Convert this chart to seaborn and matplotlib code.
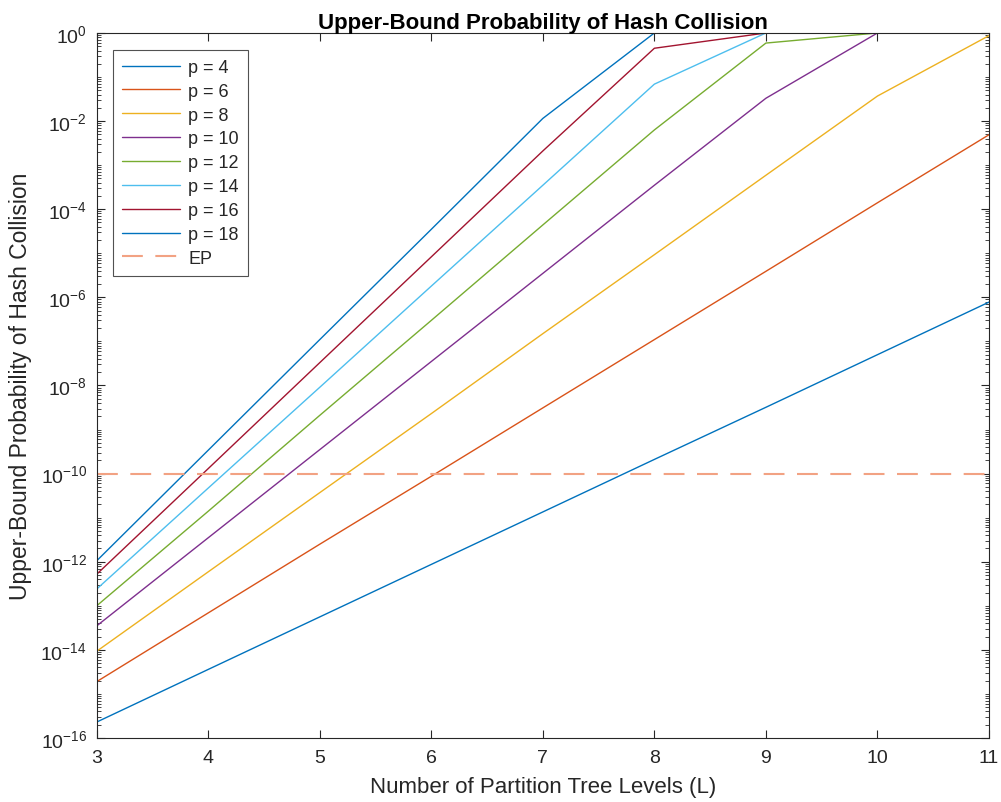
import numpy as np
import pandas as pd
import matplotlib
matplotlib.use("Agg")
import matplotlib.pyplot as plt
import matplotlib.ticker as mticker
import seaborn as sns

# Tree levels on the x axis
levels = [3, 4, 5, 6, 7, 8, 9, 10, 11]

# Upper-bound collision probability for each partition parameter p
prob_p4 = [2.3e-16, 3.6e-15, 5.6e-14, 8.7e-13, 1.35e-11, 2.1e-10, 3.2e-9, 5.0e-8, 7.8e-7]
prob_p6 = [1.9e-15, 6.9e-14, 2.5e-12, 8.7e-11, 3.1e-9, 1.1e-7, 3.9e-6, 1.4e-4, 4.9e-3]
prob_p8 = [9.3e-15, 5.9e-13, 3.7e-11, 2.3e-9, 1.5e-7, 9.3e-6, 5.9e-4, 3.7e-2, 0.87]
prob_p10 = [3.5e-14, 3.5e-12, 3.5e-10, 3.5e-8, 3.5e-6, 3.5e-4, 3.3e-2, 1.0, 1.0]
prob_p12 = [1.0e-13, 1.4e-11, 2.1e-9, 3.0e-7, 4.4e-5, 6.3e-3, 0.59, 1.0, 1.0]
prob_p14 = [2.4e-13, 4.7e-11, 9.1e-9, 1.8e-6, 3.5e-4, 6.9e-2, 1.0, 1.0, 1.0]
prob_p16 = [5.2e-13, 1.3e-10, 3.3e-8, 8.3e-6, 2.1e-3, 0.45, 1.0, 1.0, 1.0]
prob_p18 = [1.05e-12, 3.4e-10, 1.1e-7, 3.5e-5, 1.15e-2, 1.0, 1.0, 1.0, 1.0]

p_labels = ["p = 4", "p = 6", "p = 8", "p = 10", "p = 12", "p = 14", "p = 16", "p = 18"]
series = [prob_p4, prob_p6, prob_p8, prob_p10, prob_p12, prob_p14, prob_p16, prob_p18]

# Error-probability threshold
ep_label = "EP"
ep_value = 1e-10

# Labelled decades on the y axis
y_tick_exponents = [-16, -14, -12, -10, -8, -6, -4, -2, 0]

colors = ["#0072BD", "#D95319", "#EDB120", "#7E2F8E", "#77AC30", "#4DBEEE", "#A2142F", "#0072BD"]

rows = []
for lab, vals in zip(p_labels, series):
    for L, v in zip(levels, vals):
        rows.append({"L": L, "prob": v, "series": lab})
df = pd.DataFrame(rows)

sns.set_theme(style="ticks")
plt.rcParams["font.family"] = ["Liberation Sans", "DejaVu Sans"]
plt.rcParams["mathtext.fontset"] = "custom"
plt.rcParams["mathtext.rm"] = "Liberation Sans"
plt.rcParams["mathtext.it"] = "Liberation Sans"

fig = plt.figure(figsize=(10.01, 8.03), dpi=100)
ax = fig.add_axes([0.0966, 0.0797, 0.8914, 0.878])

sns.lineplot(data=df, x="L", y="prob", hue="series", hue_order=p_labels,
             palette=dict(zip(p_labels, colors)), linewidth=1.0, ax=ax,
             estimator=None, legend=True)

ep_df = pd.DataFrame({"L": [levels[0], levels[-1]], "prob": [ep_value, ep_value]})
sns.lineplot(data=ep_df, x="L", y="prob", color="#F2A283", linewidth=1.5,
             dashes=False, ax=ax, label=ep_label)
ax.lines[-1].set_dashes([10, 6])

ax.set_yscale("log")
ax.set_xlim(3, 11)
ax.set_ylim(1e-16, 1)
ax.set_xticks(levels)

major_y = [10.0 ** e for e in y_tick_exponents]
ax.yaxis.set_major_locator(mticker.FixedLocator(major_y))
ax.yaxis.set_major_formatter(mticker.FixedFormatter(
    [r"$\mathdefault{10^{%d}}$" % e for e in y_tick_exponents]))
minor_y = [m * 10.0 ** e for e in range(-16, 0) for m in range(1, 10)
           if not (m == 1 and e in y_tick_exponents)]
ax.yaxis.set_minor_locator(mticker.FixedLocator(minor_y))
ax.yaxis.set_minor_formatter(mticker.NullFormatter())

ax.tick_params(axis="both", which="both", direction="in", top=True, right=True,
               colors="#262626", labelsize=14)
ax.tick_params(axis="both", which="major", length=6, width=0.8)
ax.tick_params(axis="x", which="major", pad=8)
ax.tick_params(axis="y", which="major", pad=7)
ax.tick_params(axis="y", which="minor", length=3, width=0.6)
for s in ax.spines.values():
    s.set_color("#262626")
    s.set_linewidth(0.8)

ax.set_xlabel("Number of Partition Tree Levels (L)", fontsize=16, color="#262626", va="top")
ax.set_ylabel("Upper-Bound Probability of Hash Collision", fontsize=16.5, color="#262626")
ax.xaxis.set_label_coords(0.5, -0.0539)
ax.yaxis.set_label_coords(-0.072, 0.5)
ax.set_title("Upper-Bound Probability of Hash Collision", fontsize=16,
             fontweight="bold", color="black", pad=3)

leg = ax.legend(loc="upper left", bbox_to_anchor=(0.0186, 0.976), borderaxespad=0,
                fontsize=13, handlelength=3.2, handletextpad=0.45, frameon=True,
                fancybox=False, labelspacing=0.38, borderpad=0.5)
leg.get_frame().set_edgecolor("#262626")
leg.get_frame().set_linewidth(0.8)

fig.savefig("out.png", dpi=100)
